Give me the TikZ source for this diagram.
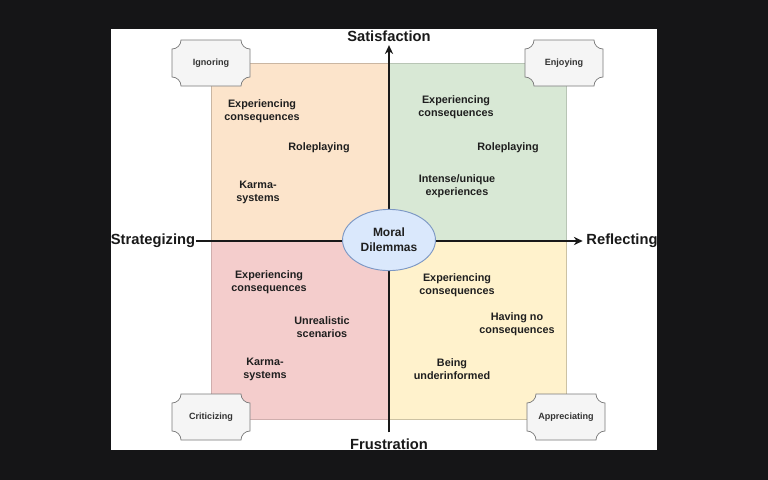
\documentclass[tikz,border=0pt]{standalone}
\usepackage{fontspec}
\setmainfont{Liberation Sans}
\usetikzlibrary{arrows.meta, shapes.geometric}

\definecolor{bgdark}{HTML}{151517}
\definecolor{qorange}{HTML}{FCE4CB}
\definecolor{qgreen}{HTML}{D8E8D5}
\definecolor{qred}{HTML}{F4CDCC}
\definecolor{qyellow}{HTML}{FFF2CC}
\definecolor{ellfill}{HTML}{DAE8FC}
\definecolor{ellline}{HTML}{7D98C4}
\definecolor{plfill}{HTML}{F5F5F5}
\definecolor{plline}{HTML}{7A7A7A}
\definecolor{pltext}{HTML}{333333}

% corner plaque: name, position, text
\newcommand{\cornerplaque}[3]{%
  \draw[plaqueline, shift={#2}] (-30,-23) -- (30,-23)
    .. controls (30,-18) and (34,-14) .. (39,-14) -- (39,14)
    .. controls (34,14) and (30,18) .. (30,23) -- (-30,23)
    .. controls (-30,18) and (-34,14) .. (-39,14) -- (-39,-14)
    .. controls (-34,-14) and (-30,-18) .. (-30,-23) -- cycle;
  \node[plaquetext] (#1) at #2 {#3};
}

\begin{document}
\begin{tikzpicture}[x=0.85pt, y=-0.85pt,
    quad/.style={line width=0.5pt},
    item/.style={font=\fontsize{9.2}{11}\selectfont\bfseries, align=center, text=black!88, yshift=-1.2pt},
    axislabel/.style={font=\fontsize{12.5}{14}\selectfont\bfseries, text=black!90, inner sep=3pt},
    axis/.style={line width=1.3pt, black!90},
    plaqueline/.style={fill=plfill, draw=plline, line width=0.6pt},
    plaquetext/.style={font=\fontsize{7.7}{9}\selectfont\bfseries, text=pltext}]

        % Background
        \fill[bgdark] (0,0) rectangle (768,480);
        \fill[white] (111,29) rectangle (657,450);

        % Quadrants
        \filldraw[quad, fill=qorange, draw=qorange!80!black] (211,63) rectangle (388,240);
        \filldraw[quad, fill=qgreen, draw=qgreen!85!black] (388,63) rectangle (566,240);
        \filldraw[quad, fill=qred, draw=qred!85!black] (211,240) rectangle (388,419);
        \filldraw[quad, fill=qyellow, draw=qyellow!80!black] (388,240) rectangle (566,419);

        % Axis labels
        \node[axislabel] (sat) at (389,36) {Satisfaction};
        \node[axislabel] (fru) at (389,444) {Frustration};
        \node[axislabel] (str) at (153,241) {Strategizing};
        \node[axislabel] (ref) at (622,241) {Reflecting};

        % Axes
        \draw[axis, shorten <=-2.5pt, -{Stealth[length=7.5pt, width=7pt]}] (str.east) -- (ref.west);
        \draw[axis, shorten <=2pt, -{Stealth[length=7.5pt, width=7pt]}] (fru.north) -- (sat.south);

        % Centre
        \node[ellipse, draw=ellline, fill=ellfill, line width=0.8pt, minimum width=79pt,
            minimum height=52pt, inner sep=0pt, align=center, text=black!88,
            font=\fontsize{10.2}{12.8}\selectfont\bfseries] (moral) at (389,240) {Moral\\Dilemmas};

        % Satisfaction / Strategizing
        \node[item] (tl1) at (262,110) {Experiencing\\consequences};
        \node[item] (tl2) at (319,146) {Roleplaying};
        \node[item] (tl3) at (258,191) {Karma-\\systems};

        % Satisfaction / Reflecting
        \node[item] (tr1) at (456,106) {Experiencing\\consequences};
        \node[item] (tr2) at (508,146) {Roleplaying};
        \node[item] (tr3) at (457,185) {Intense/unique\\experiences};

        % Frustration / Strategizing
        \node[item] (bl1) at (269,281) {Experiencing\\consequences};
        \node[item] (bl2) at (322,326) {Unrealistic\\scenarios};
        \node[item] (bl3) at (265,368) {Karma-\\systems};

        % Frustration / Reflecting
        \node[item] (br1) at (457,284) {Experiencing\\consequences};
        \node[item] (br2) at (517,323) {Having no\\consequences};
        \node[item] (br3) at (452,368) {Being\\underinformed};

        % Corners
        \cornerplaque{ign}{(211,63)}{Ignoring}
        \cornerplaque{enj}{(564,63)}{Enjoying}
        \cornerplaque{cri}{(211,417)}{Criticizing}
        \cornerplaque{app}{(566,417)}{Appreciating}
    \end{tikzpicture}
\end{document}
